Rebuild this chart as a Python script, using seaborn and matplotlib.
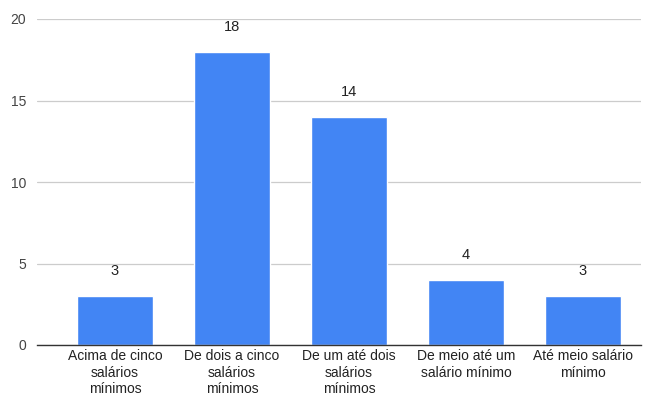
import matplotlib
matplotlib.use("Agg")
import matplotlib.pyplot as plt
import seaborn as sns
import pandas as pd

categorias = [
    "Acima de cinco\nsalários\nmínimos",
    "De dois a cinco\nsalários\nmínimos",
    "De um até dois\nsalários\nmínimos",
    "De meio até um\nsalário mínimo",
    "Até meio salário\nmínimo",
]
valores = [3, 18, 14, 4, 3]
y_ticks = [0, 5, 10, 15, 20]

sns.set_theme(style="white")
plt.rcParams["font.family"] = ["Liberation Sans", "DejaVu Sans"]

df = pd.DataFrame({"faixa": categorias, "qtd": valores})

fig = plt.figure(figsize=(6.51, 3.97), dpi=100)
ax = fig.add_axes([37 / 651, 52 / 397, 604 / 651, 326 / 397])

sns.barplot(data=df, x="faixa", y="qtd", color="#4285F4", saturation=1,
            width=0.65, ax=ax)

ax.set_xlim(-0.667, 4.496)
ax.set_ylim(0, 20)
ax.set_yticks(y_ticks)
ax.set_yticklabels([str(t) for t in y_ticks], fontsize=10, color="#444444")
ax.grid(axis="y", color="#cccccc", linewidth=0.9)
ax.set_axisbelow(True)
for s in ["top", "right", "left"]:
    ax.spines[s].set_visible(False)
ax.spines["bottom"].set_color("#333333")
ax.spines["bottom"].set_linewidth(1.0)
ax.tick_params(axis="y", length=0, pad=8)
ax.tick_params(axis="x", length=0, pad=3)
for lbl in ax.get_xticklabels():
    lbl.set_fontsize(10)
    lbl.set_color("#222222")
    lbl.set_linespacing(1.22)
ax.set_xlabel("")
ax.set_ylabel("")

for i, v in enumerate(valores):
    ax.annotate(str(v), (i, v), xytext=(0, 13), textcoords="offset points",
                ha="center", va="bottom", fontsize=10.5, color="#222222")

fig.savefig("out.png", dpi=100)
